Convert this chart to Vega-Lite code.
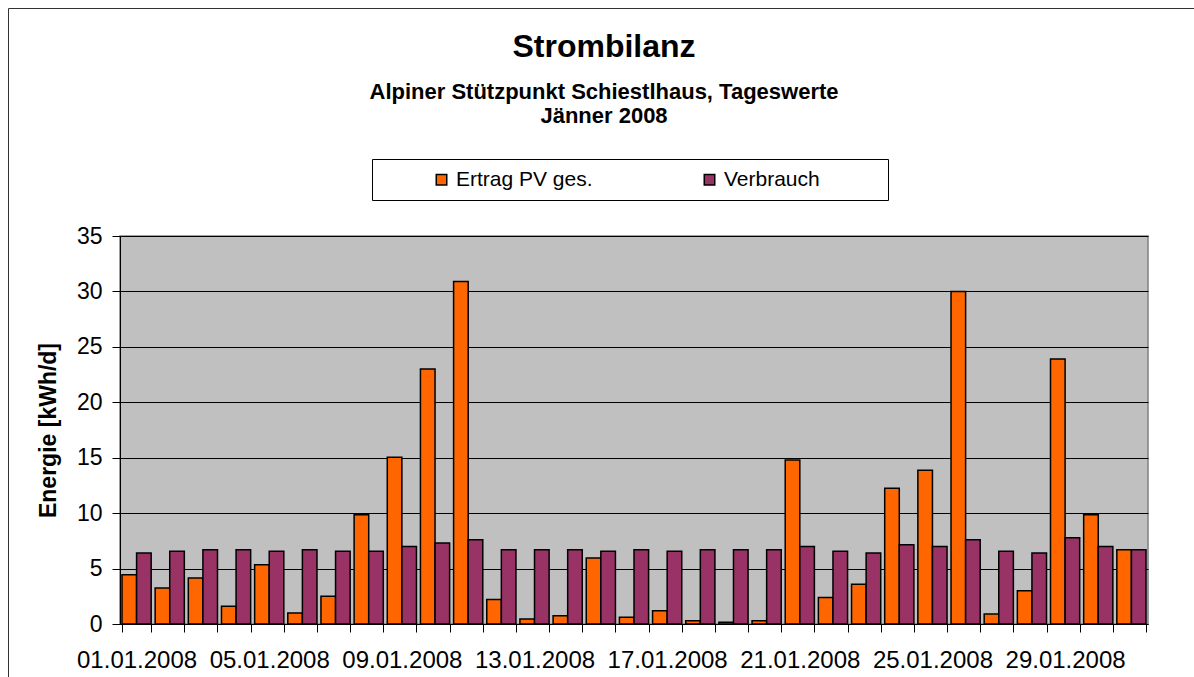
{
  "$schema": "https://vega.github.io/schema/vega-lite/v6.json",
  "autosize": {"type": "none"},
  "width": 1028,
  "height": 388,
  "padding": {"left": 120, "top": 236, "right": 46, "bottom": 53},
  "background": "white",
  "title": {
    "text": "Strombilanz",
    "subtitle": ["Alpiner Stützpunkt Schiestlhaus, Tageswerte", "Jänner 2008"],
    "anchor": "middle",
    "frame": "group",
    "dx": -30,
    "offset": -120,
    "font": "Liberation Sans",
    "fontSize": 32,
    "fontWeight": "bold",
    "color": "black",
    "subtitleFont": "Liberation Sans",
    "subtitleFontSize": 22,
    "subtitleFontWeight": "bold",
    "subtitleColor": "black",
    "subtitleLineHeight": 24,
    "subtitlePadding": 18
  },
  "data": {
    "values": [
      {"datum": "01.01.2008", "serie": "Ertrag PV ges.", "wert": 4.45},
      {"datum": "01.01.2008", "serie": "Verbrauch", "wert": 6.4},
      {"datum": "02.01.2008", "serie": "Ertrag PV ges.", "wert": 3.25},
      {"datum": "02.01.2008", "serie": "Verbrauch", "wert": 6.56},
      {"datum": "03.01.2008", "serie": "Ertrag PV ges.", "wert": 4.15},
      {"datum": "03.01.2008", "serie": "Verbrauch", "wert": 6.7},
      {"datum": "04.01.2008", "serie": "Ertrag PV ges.", "wert": 1.6},
      {"datum": "04.01.2008", "serie": "Verbrauch", "wert": 6.7},
      {"datum": "05.01.2008", "serie": "Ertrag PV ges.", "wert": 5.35},
      {"datum": "05.01.2008", "serie": "Verbrauch", "wert": 6.56},
      {"datum": "06.01.2008", "serie": "Ertrag PV ges.", "wert": 1.0},
      {"datum": "06.01.2008", "serie": "Verbrauch", "wert": 6.7},
      {"datum": "07.01.2008", "serie": "Ertrag PV ges.", "wert": 2.5},
      {"datum": "07.01.2008", "serie": "Verbrauch", "wert": 6.56},
      {"datum": "08.01.2008", "serie": "Ertrag PV ges.", "wert": 9.85},
      {"datum": "08.01.2008", "serie": "Verbrauch", "wert": 6.56},
      {"datum": "09.01.2008", "serie": "Ertrag PV ges.", "wert": 15.05},
      {"datum": "09.01.2008", "serie": "Verbrauch", "wert": 7.0},
      {"datum": "10.01.2008", "serie": "Ertrag PV ges.", "wert": 23.0},
      {"datum": "10.01.2008", "serie": "Verbrauch", "wert": 7.3},
      {"datum": "11.01.2008", "serie": "Ertrag PV ges.", "wert": 30.9},
      {"datum": "11.01.2008", "serie": "Verbrauch", "wert": 7.6},
      {"datum": "12.01.2008", "serie": "Ertrag PV ges.", "wert": 2.2},
      {"datum": "12.01.2008", "serie": "Verbrauch", "wert": 6.7},
      {"datum": "13.01.2008", "serie": "Ertrag PV ges.", "wert": 0.45},
      {"datum": "13.01.2008", "serie": "Verbrauch", "wert": 6.7},
      {"datum": "14.01.2008", "serie": "Ertrag PV ges.", "wert": 0.75},
      {"datum": "14.01.2008", "serie": "Verbrauch", "wert": 6.7},
      {"datum": "15.01.2008", "serie": "Ertrag PV ges.", "wert": 5.95},
      {"datum": "15.01.2008", "serie": "Verbrauch", "wert": 6.56},
      {"datum": "16.01.2008", "serie": "Ertrag PV ges.", "wert": 0.6},
      {"datum": "16.01.2008", "serie": "Verbrauch", "wert": 6.7},
      {"datum": "17.01.2008", "serie": "Ertrag PV ges.", "wert": 1.2},
      {"datum": "17.01.2008", "serie": "Verbrauch", "wert": 6.56},
      {"datum": "18.01.2008", "serie": "Ertrag PV ges.", "wert": 0.3},
      {"datum": "18.01.2008", "serie": "Verbrauch", "wert": 6.7},
      {"datum": "19.01.2008", "serie": "Ertrag PV ges.", "wert": 0.15},
      {"datum": "19.01.2008", "serie": "Verbrauch", "wert": 6.7},
      {"datum": "20.01.2008", "serie": "Ertrag PV ges.", "wert": 0.3},
      {"datum": "20.01.2008", "serie": "Verbrauch", "wert": 6.7},
      {"datum": "21.01.2008", "serie": "Ertrag PV ges.", "wert": 14.8},
      {"datum": "21.01.2008", "serie": "Verbrauch", "wert": 7.0},
      {"datum": "22.01.2008", "serie": "Ertrag PV ges.", "wert": 2.38},
      {"datum": "22.01.2008", "serie": "Verbrauch", "wert": 6.56},
      {"datum": "23.01.2008", "serie": "Ertrag PV ges.", "wert": 3.58},
      {"datum": "23.01.2008", "serie": "Verbrauch", "wert": 6.4},
      {"datum": "24.01.2008", "serie": "Ertrag PV ges.", "wert": 12.25},
      {"datum": "24.01.2008", "serie": "Verbrauch", "wert": 7.16},
      {"datum": "25.01.2008", "serie": "Ertrag PV ges.", "wert": 13.87},
      {"datum": "25.01.2008", "serie": "Verbrauch", "wert": 7.0},
      {"datum": "26.01.2008", "serie": "Ertrag PV ges.", "wert": 30.0},
      {"datum": "26.01.2008", "serie": "Verbrauch", "wert": 7.6},
      {"datum": "27.01.2008", "serie": "Ertrag PV ges.", "wert": 0.9},
      {"datum": "27.01.2008", "serie": "Verbrauch", "wert": 6.56},
      {"datum": "28.01.2008", "serie": "Ertrag PV ges.", "wert": 3.0},
      {"datum": "28.01.2008", "serie": "Verbrauch", "wert": 6.4},
      {"datum": "29.01.2008", "serie": "Ertrag PV ges.", "wert": 23.9},
      {"datum": "29.01.2008", "serie": "Verbrauch", "wert": 7.77},
      {"datum": "30.01.2008", "serie": "Ertrag PV ges.", "wert": 9.85},
      {"datum": "30.01.2008", "serie": "Verbrauch", "wert": 7.0},
      {"datum": "31.01.2008", "serie": "Ertrag PV ges.", "wert": 6.7},
      {"datum": "31.01.2008", "serie": "Verbrauch", "wert": 6.7}
    ]
  },
  "mark": {"type": "bar", "stroke": "black", "strokeWidth": 1.5},
  "encoding": {
    "x": {
      "field": "datum",
      "type": "ordinal",
      "sort": null,
      "scale": {"paddingInner": 0.12, "paddingOuter": 0.06},
      "axis": {
        "title": null,
        "labelAngle": 0,
        "labelFont": "Liberation Sans",
        "labelFontSize": 24,
        "labelColor": "black",
        "labelOverlap": false,
        "labelExpr": "indexof(['01','05','09','13','17','21','25','29'], substring(datum.label,0,2)) >= 0 ? datum.label : ''",
        "labelPadding": 16,
        "tickBand": "extent",
        "tickSize": 8,
        "tickColor": "black",
        "domainColor": "black",
        "domainWidth": 1,
        "grid": false
      }
    },
    "xOffset": {"field": "serie", "type": "nominal", "sort": ["Ertrag PV ges.", "Verbrauch"], "scale": {"paddingInner": 0, "paddingOuter": 0}},
    "y": {
      "field": "wert",
      "type": "quantitative",
      "scale": {"domain": [0, 35], "nice": false},
      "axis": {
        "title": "Energie [kWh/d]",
        "titleFont": "Liberation Sans",
        "titleFontSize": 23,
        "titleFontWeight": "bold",
        "titleColor": "black",
        "titlePadding": 16,
        "values": [0, 5, 10, 15, 20, 25, 30, 35],
        "labelFont": "Liberation Sans",
        "labelFontSize": 23,
        "labelColor": "black",
        "labelPadding": 10,
        "tickSize": 8,
        "tickColor": "black",
        "domainColor": "black",
        "grid": true,
        "gridColor": "black",
        "gridOpacity": 1,
        "gridWidth": 1
      }
    },
    "color": {
      "field": "serie",
      "type": "nominal",
      "scale": {"domain": ["Ertrag PV ges.", "Verbrauch"], "range": ["#FF6600", "#993366"]},
      "legend": {
        "title": " ",
        "titleOrient": "right",
        "titlePadding": 58,
        "titleFontSize": 10,
        "symbolOffset": 49,
        "orient": "none",
        "legendX": 252,
        "legendY": -77,
        "direction": "horizontal",
        "columns": 2,
        "columnPadding": 57,
        "padding": 10,
        "strokeColor": "black",
        "fillColor": "white",
        "symbolType": "square",
        "symbolSize": 110,
        "symbolStrokeColor": "black",
        "symbolStrokeWidth": 1.5,
        "symbolOpacity": 1,
        "labelFont": "Liberation Sans",
        "labelFontSize": 21,
        "labelColor": "black",
        "labelOffset": 4
      }
    },
    "opacity": {
      "field": "wert",
      "type": "quantitative",
      "scale": {"domain": [0, 35], "range": [1, 1]},
      "legend": {
        "title": null,
        "orient": "none",
        "legendX": -112,
        "legendY": -228,
        "padding": 900,
        "strokeColor": "#333333",
        "symbolOpacity": 0,
        "symbolStrokeWidth": 0,
        "labelExpr": "''",
        "values": [0]
      }
    }
  },
  "config": {
    "view": {"fill": "#C0C0C0", "stroke": "#808080", "strokeWidth": 1.5}
  }
}
